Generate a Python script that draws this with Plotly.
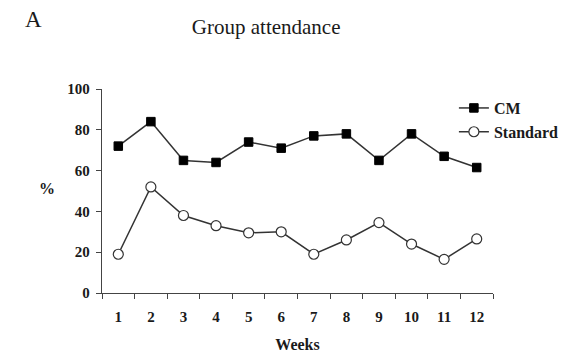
import plotly.graph_objects as go

weeks = ["1", "2", "3", "4", "5", "6", "7", "8", "9", "10", "11", "12"]
cm_values = [72, 84, 65, 64, 74, 71, 77, 78, 65, 78, 67, 61.5]
standard_values = [19, 52, 38, 33, 29.5, 30, 19, 26, 34.5, 24, 16.5, 26.5]
y_ticks = [0, 20, 40, 60, 80, 100]

FONT = "Liberation Serif"
INK = "#1a1a1a"

fig = go.Figure()
fig.add_trace(go.Scatter(
    x=weeks, y=cm_values, name="CM", mode="lines+markers",
    line=dict(color="#333333", width=1.5),
    marker=dict(symbol="square", size=8.5, color="#000000",
                line=dict(color="#000000", width=1)),
))
fig.add_trace(go.Scatter(
    x=weeks, y=standard_values, name="Standard", mode="lines+markers",
    line=dict(color="#333333", width=1.5),
    marker=dict(symbol="circle", size=10, color="#ffffff",
                line=dict(color="#333333", width=1.2)),
))

fig.update_layout(
    width=585, height=355,
    margin=dict(l=102, r=92, t=89, b=62),
    paper_bgcolor="white", plot_bgcolor="white",
    font=dict(family=FONT, color=INK),
    title=dict(text="Group attendance", x=0.455, xanchor="center",
               y=1 - 27 / 355, yanchor="middle",
               font=dict(family=FONT, size=21, color=INK)),
    showlegend=True,
    legend=dict(x=0.9, xanchor="left", y=0.99, yanchor="top",
                bgcolor="rgba(0,0,0,0)",
                font=dict(family=FONT, size=16, color=INK, weight="bold"),
                tracegroupgap=0, itemwidth=30),
    xaxis=dict(type="category", range=[-0.5, 11.5], tickson="boundaries",
               automargin=False,
               showline=True, linecolor="#444444", linewidth=1.3,
               ticks="outside", ticklen=5, tickcolor="#444444", tickwidth=1.3,
               showgrid=False, zeroline=False, ticklabelstandoff=10,
               tickfont=dict(family=FONT, size=15, color=INK, weight="bold"),
               title=dict(text="Weeks", standoff=14,
                          font=dict(family=FONT, size=16, color=INK, weight="bold"))),
    yaxis=dict(range=[0, 100], tickvals=y_ticks, automargin=False,
               showline=True, linecolor="#444444", linewidth=1.3,
               ticks="outside", ticklen=5, tickcolor="#444444", tickwidth=1.3,
               showgrid=False, zeroline=False, ticklabelstandoff=3,
               tickfont=dict(family=FONT, size=15, color=INK, weight="bold")),
    annotations=[
        dict(text="A", xref="paper", yref="paper",
             x=(33 - 102) / 391, y=1 + (89 - 20) / 204,
             xanchor="center", yanchor="middle", showarrow=False,
             font=dict(family=FONT, size=23, color=INK)),
        dict(text="%", xref="paper", yref="paper",
             x=(47 - 102) / 391, y=(293 - 188) / 204,
             xanchor="center", yanchor="middle", showarrow=False,
             font=dict(family=FONT, size=16, color=INK, weight="bold")),
    ],
)

fig.write_html("out.html", config={"displayModeBar": False},
               post_script="document.body.style.margin='0';document.body.style.overflow='hidden';")
